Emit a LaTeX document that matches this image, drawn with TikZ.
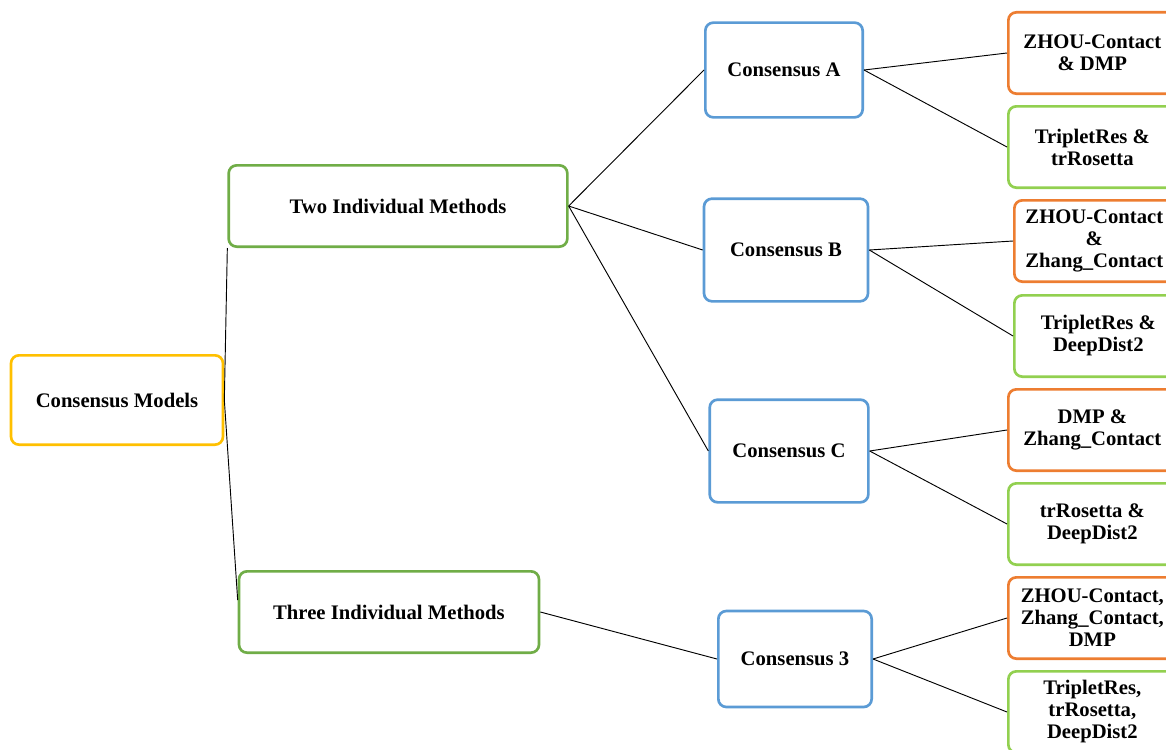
\documentclass[tikz,border=0pt]{standalone}
\usepackage{fontspec}
\setmainfont{Liberation Serif}
\usepackage{tikz}

\definecolor{gold}{HTML}{FFC000}
\definecolor{leaf}{HTML}{70AD47}
\definecolor{sky}{HTML}{5B9BD5}
\definecolor{rust}{HTML}{ED7D31}
\definecolor{lime}{HTML}{92D050}

\begin{document}
\begin{tikzpicture}[x=0.75pt, y=-0.75pt,
    block/.style={draw, rectangle, rounded corners=6pt, line width=2pt, fill=white, text centered, align=center,
        font=\fontsize{15.5}{16.5}\selectfont\bfseries, inner sep=2pt},
    rootbox/.style={block, draw=gold, minimum width=159pt, minimum height=67pt},
    groupbox/.style={block, draw=leaf, minimum height=61pt},
    consbox/.style={block, draw=sky},
    pairbox/.style={block, anchor=west, minimum width=126pt, minimum height=61pt},
    link/.style={draw, line width=0.7pt}]
    \clip (0,0) rectangle (1166,749);

    \node[rootbox] (root) at (117,400) {Consensus Models};
    \node[groupbox, minimum width=254pt] (two) at (398,206) {Two Individual Methods};
    \node[groupbox, minimum width=225pt] (three) at (389,612) {Three Individual Methods};

    \node[consbox, minimum width=118pt, minimum height=71pt] (consA) at (784,70) {Consensus A};
    \node[consbox, minimum width=123pt, minimum height=77pt] (consB) at (786,250) {Consensus B};
    \node[consbox, minimum width=119pt, minimum height=77pt] (consC) at (789,451) {Consensus C};
    \node[consbox, minimum width=115pt, minimum height=72pt] (cons3) at (795,659) {Consensus 3};

    \node[pairbox, draw=rust] (zd) at (1007,53) {ZHOU-Contact\\\& DMP};
    \node[pairbox, draw=lime] (tt) at (1007,147) {TripletRes \&\\trRosetta};
    \node[pairbox, draw=rust, minimum width=120pt] (zz) at (1013,241) {ZHOU-Contact\\\&\\Zhang\_Contact};
    \node[pairbox, draw=lime] (td) at (1013,336) {TripletRes \&\\DeepDist2};
    \node[pairbox, draw=rust] (dz) at (1007,430) {DMP \&\\Zhang\_Contact};
    \node[pairbox, draw=lime] (rd) at (1007,524) {trRosetta \&\\DeepDist2};
    \node[pairbox, draw=rust] (zzd) at (1007,618) {ZHOU-Contact,\\Zhang\_Contact,\\DMP};
    \node[pairbox, draw=lime] (trd) at (1007,712) {TripletRes,\\trRosetta,\\DeepDist2};

    % root to groups
    \draw[link] (root.east) -- (two.south west);
    \draw[link] (root.east) -- ([yshift=9pt]three.west);

    % groups to consensus models
    \draw[link] (two.east) -- (consA.west);
    \draw[link] (two.east) -- (consB.west);
    \draw[link] (two.east) -- (consC.west);
    \draw[link] (three.east) -- (cons3.west);

    % consensus models to methods
    \draw[link] (consA.east) -- (zd.west);
    \draw[link] (consA.east) -- (tt.west);
    \draw[link] (consB.east) -- (zz.west);
    \draw[link] (consB.east) -- (td.west);
    \draw[link] (consC.east) -- (dz.west);
    \draw[link] (consC.east) -- (rd.west);
    \draw[link] (cons3.east) -- (zzd.west);
    \draw[link] (cons3.east) -- (trd.west);
\end{tikzpicture}
\end{document}
